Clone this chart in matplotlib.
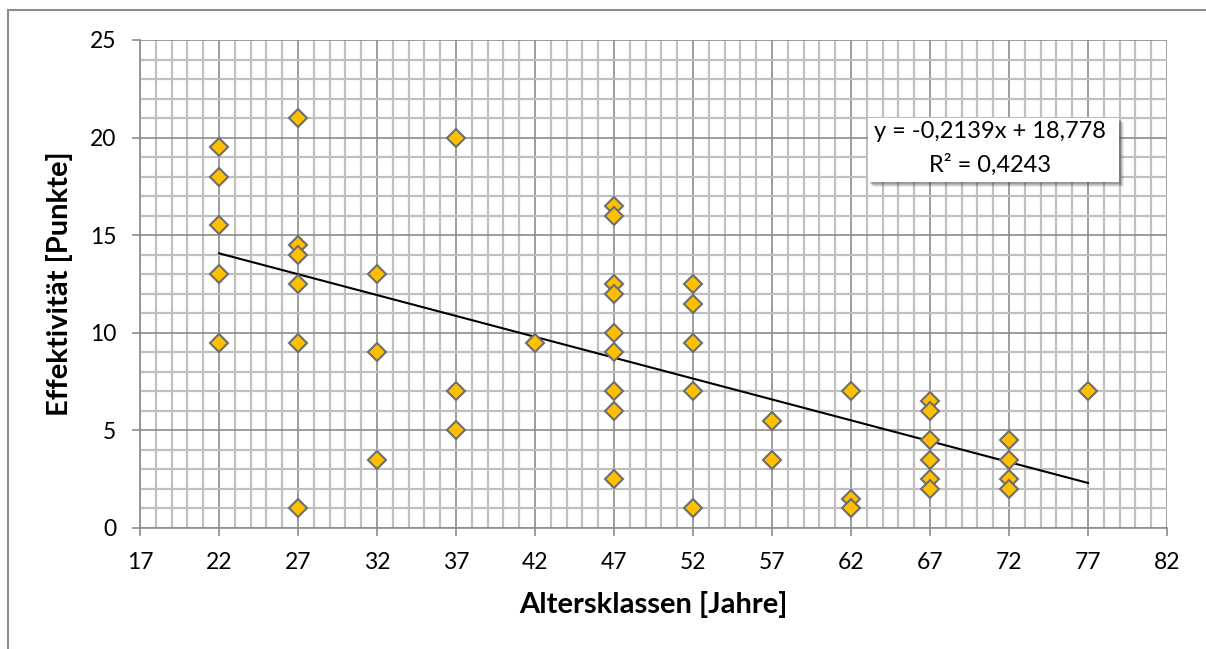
import numpy as np
import matplotlib
import matplotlib.pyplot as plt
from matplotlib.ticker import MultipleLocator
from matplotlib.lines import Line2D
from matplotlib.patches import Rectangle

matplotlib.use("Agg")

# Alter (x) und Effektivitaet (y) je Person
ageClasses = [22, 22, 22, 22, 22,
              27, 27, 27, 27, 27, 27,
              32, 32, 32,
              37, 37, 37,
              42,
              47, 47, 47, 47, 47, 47, 47, 47, 47,
              52, 52, 52, 52, 52,
              57, 57,
              62, 62, 62,
              67, 67, 67, 67, 67, 67,
              72, 72, 72, 72,
              77]
effectivity = [19.5, 18, 15.5, 13, 9.5,
               21, 14.5, 14, 12.5, 9.5, 1,
               13, 9, 3.5,
               20, 7, 5,
               9.5,
               16.5, 16, 12.5, 12, 10, 9, 7, 6, 2.5,
               12.5, 11.5, 9.5, 7, 1,
               5.5, 3.5,
               7, 1.5, 1,
               6.5, 6, 4.5, 3.5, 2.5, 2,
               4.5, 3.5, 2.5, 2,
               7]

# Trendlinie (laut Excel-Beschriftung)
slope = -0.2139
intercept = 18.778
r2 = 0.4243
xTicks = list(range(17, 83, 5))
yTicks = list(range(0, 26, 5))

W, H = 1206, 649
axLeft, axRight, axTop, axBottom = 140, 1167, 40, 528  # pixel box of plot area

def axFrac(px, py):
  # pixel position (from top-left) -> axes fraction
  return (px - axLeft) / (axRight - axLeft), (axBottom - py) / (axBottom - axTop)

plt.rcParams["font.family"] = ["Lato", "DejaVu Sans"]

fig = plt.figure(figsize=(W / 100, H / 100), dpi=100)
ax = fig.add_axes([axLeft / W, 1 - axBottom / H, (axRight - axLeft) / W, (axBottom - axTop) / H])

# Grid: minor light, major darker
ax.xaxis.set_minor_locator(MultipleLocator(1))
ax.yaxis.set_minor_locator(MultipleLocator(1))
ax.grid(which="minor", color="#c0c0c0", linewidth=1.6, zorder=0)
ax.grid(which="major", color="#8c8c8c", linewidth=1.2, zorder=0.5)
ax.set_axisbelow(True)

ax.set_xlim(17, 82)
ax.set_ylim(0, 25)
ax.set_xticks(xTicks)
ax.set_yticks(yTicks)
ax.tick_params(which="major", direction="out", length=6, width=1.2, color="#8c8c8c",
               labelsize=16.5)
ax.tick_params(axis="x", pad=11)
ax.tick_params(axis="y", pad=11)
ax.tick_params(which="minor", length=0)
for side in ["top", "right"]:
  ax.spines[side].set_visible(False)
for side in ["left", "bottom"]:
  ax.spines[side].set_color("#8c8c8c")
  ax.spines[side].set_linewidth(1.2)

# Trendline over data range
xFit = np.array([min(ageClasses), max(ageClasses)])
ax.plot(xFit, slope * xFit + intercept, color="black", linewidth=1.5, zorder=2)

ax.plot(ageClasses, effectivity, linestyle="none", marker="D", markersize=9.5,
        markerfacecolor="#ffc000", markeredgecolor="#6e6e6e", markeredgewidth=1.5, zorder=3)

ax.set_xlabel("Altersklassen [Jahre]", fontsize=21, fontweight="bold", labelpad=13)
ax.set_ylabel("Effektivität [Punkte]", fontsize=21, fontweight="bold", labelpad=12)

# Equation box with soft shadow
boxX0, boxY0 = axFrac(868, 182)
boxW = (1119 - 868) / (axRight - axLeft)
boxH = (182 - 118) / (axBottom - axTop)
for i, a in enumerate([0.10, 0.14, 0.18, 0.22]):
  off = (5 - i) / (axRight - axLeft)
  offY = (5 - i) / (axBottom - axTop)
  ax.add_patch(Rectangle((boxX0 + off, boxY0 - offY), boxW, boxH, transform=ax.transAxes,
                         facecolor="#404040", edgecolor="none", alpha=a, zorder=4))
ax.add_patch(Rectangle((boxX0, boxY0), boxW, boxH, transform=ax.transAxes,
                       facecolor="white", edgecolor="none", zorder=4.5))

fmt = lambda v: str(v).replace(".", ",")
tx, ty1 = axFrac(990, 132)
_, ty2 = axFrac(990, 165)
ax.text(tx, ty1, "y = %sx + %s" % (fmt(slope), fmt(intercept)), transform=ax.transAxes,
        ha="center", va="center", fontsize=17, zorder=5)
ax.text(tx, ty2, "R² = %s" % fmt(r2), transform=ax.transAxes,
        ha="center", va="center", fontsize=17, zorder=5)

# Outer chart border (only left and top visible)
fig.add_artist(Line2D([8 / W, 8 / W], [0, 1 - 10 / H], transform=fig.transFigure,
                      color="#8c8c8c", linewidth=1.5))
fig.add_artist(Line2D([8 / W, 1], [1 - 10 / H, 1 - 10 / H], transform=fig.transFigure,
                      color="#8c8c8c", linewidth=1.5))

fig.savefig("out.png", dpi=100)
